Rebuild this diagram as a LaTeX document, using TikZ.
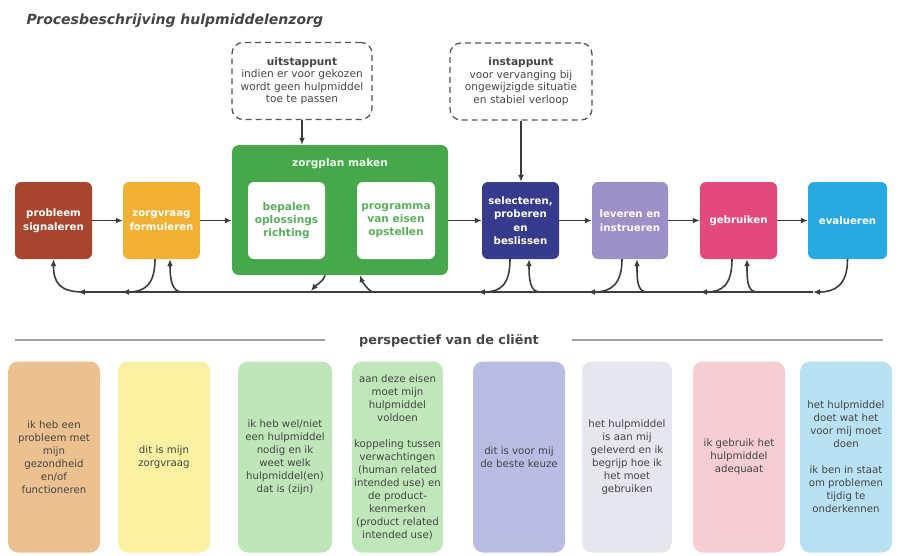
\documentclass[tikz,border=0pt]{standalone}
\usepackage{fontspec}
\setmainfont{DejaVu Sans}
\usetikzlibrary{arrows.meta}

\definecolor{cProbleem}{HTML}{A8452F}
\definecolor{cZorgvraag}{HTML}{F2B134}
\definecolor{cZorgplan}{HTML}{47A84B}
\definecolor{cZorgtext}{HTML}{5AAE5C}
\definecolor{cSelect}{HTML}{363B8E}
\definecolor{cLeveren}{HTML}{9D8FC8}
\definecolor{cGebruik}{HTML}{E3497C}
\definecolor{cEval}{HTML}{28A9E1}
\definecolor{cLine}{HTML}{3C3C3C}
\definecolor{cDash}{HTML}{555555}
\definecolor{cText}{HTML}{454545}
\definecolor{kOrange}{HTML}{EDC18F}
\definecolor{kYellow}{HTML}{FAF0A2}
\definecolor{kGreenA}{HTML}{BFE6B9}
\definecolor{kGreenB}{HTML}{C0E7BA}
\definecolor{kLavender}{HTML}{B9BCE3}
\definecolor{kGrey}{HTML}{E6E6EE}
\definecolor{kPink}{HTML}{F5CDD3}
\definecolor{kBlue}{HTML}{B8E1F3}

\begin{document}
\begin{tikzpicture}[x=1pt,y=-1pt,
  stepbox/.style={rounded corners=6pt, minimum width=77pt, minimum height=77pt,
    inner sep=0pt, align=center, text=white,
    font=\fontsize{10.2}{13.5}\selectfont\bfseries},
  innerbox/.style={rounded corners=6pt, fill=white, minimum height=77pt,
    inner sep=0pt, align=center, text=cZorgtext,
    font=\fontsize{10.6}{13.3}\selectfont\bfseries},
  dashbox/.style={draw=cDash, line width=1.3pt, dash pattern=on 6pt off 4pt,
    rounded corners=11pt, minimum height=77pt, inner sep=0pt, align=center,
    text=cText, font=\fontsize{10.6}{12.6}\selectfont},
  card/.style={rounded corners=10pt, minimum width=92pt, minimum height=191pt,
    inner sep=0pt, align=center, text=cText,
    font=\fontsize{10.2}{13}\selectfont},
  flow/.style={draw=cLine, line width=1.6pt, -{Latex[length=7pt,width=6pt]}},
  sepline/.style={draw=gray!75, line width=1.2pt}
]
\useasboundingbox (0,0) rectangle (901,555);

% title
\node[anchor=west, text=cText, font=\fontsize{14}{16}\selectfont\bfseries\itshape]
  (title) at (23,21) {Procesbeschrijving hulpmiddelenzorg};

% entry and exit points
\node[dashbox, minimum width=140pt] (uit) at (302,81)
  {\textbf{uitstappunt}\\indien er voor gekozen\\wordt geen hulpmiddel\\toe te passen};
\node[dashbox, minimum width=142pt] (in) at (521,81.5)
  {\textbf{instappunt}\\voor vervanging bij\\ongewijzigde situatie\\en stabiel verloop};

% process steps
\node[stepbox, fill=cProbleem] (p1) at (53.5,220.5) {probleem\\signaleren};
\node[stepbox, fill=cZorgvraag] (p2) at (161.5,220.5) {zorgvraag\\formuleren};
\node[rounded corners=7pt, fill=cZorgplan, minimum width=216pt, minimum height=130pt,
  inner sep=0pt] (g) at (340,210) {};
\node[text=white!92!cZorgplan, font=\fontsize{10.6}{12}\selectfont\bfseries]
  (gl) at (340,164) {zorgplan maken};
\node[innerbox, minimum width=77pt] (ga) at (286.5,220.5) {bepalen\\oplossings\\richting};
\node[innerbox, minimum width=78pt] (gb) at (396,220.5) {programma\\van eisen\\opstellen};
\node[stepbox, fill=cSelect] (p4) at (520.5,220.5) {selecteren,\\proberen\\en\\beslissen};
\node[stepbox, fill=cLeveren, minimum width=76pt] (p5) at (630,220.5) {leveren en\\instrueren};
\node[stepbox, fill=cGebruik] (p6) at (738.5,220.5) {gebruiken};
\node[stepbox, fill=cEval, minimum width=79pt] (p7) at (847.5,220.5) {evalueren};

% forward flow
\draw[flow] (uit.south) -- (g.north -| uit.south);
\draw[flow] (in.south) -- (p4.north -| in.south);
\draw[flow] (p1.east) -- (p2.west);
\draw[flow] (p2.east) -- (p2.east -| g.west);
\draw[flow] (p4.west -| g.east) -- (p4.west);
\draw[flow] (p4.east) -- (p5.west);
\draw[flow] (p5.east) -- (p6.west);
\draw[flow] (p6.east) -- (p7.west);

% feedback bus
\coordinate (busR) at (813,292);
\coordinate (busL) at (78,292);
\draw[flow] (busR) -- (busL);

% feedback: out of each step onto the bus
\coordinate (o2) at (122,292);
\coordinate (og) at (311,291);
\coordinate (o4) at (478,292);
\coordinate (o5) at (588,292);
\coordinate (o6) at (700,292);
\draw[flow] ([xshift=-6.5pt]p2.south) .. controls +(0,26) and +(22,0) .. (o2);
\draw[flow] ([xshift=-15pt]g.south) .. controls +(-2,7) and +(5,-6) .. (og);
\draw[flow] ([xshift=-10.5pt]p4.south) .. controls +(0,26) and +(22,0) .. (o4);
\draw[flow] ([xshift=-8pt]p5.south) .. controls +(0,26) and +(22,0) .. (o5);
\draw[flow] ([xshift=-6.5pt]p6.south) .. controls +(0,26) and +(22,0) .. (o6);
\draw[flow] (p7.south) .. controls +(0,26) and +(22,0) .. (busR);

% feedback: from the bus back into each step
\coordinate (i1) at (84,292);
\coordinate (i2) at (182,292);
\coordinate (ig) at (372,292);
\coordinate (i4) at (540,292);
\coordinate (i5) at (647,292);
\coordinate (i6) at (757,292);
\draw[flow] (i1) .. controls +(-24,0) and +(0,24) .. (p1.south);
\draw[flow] (i2) .. controls +(-10,0) and +(0,20) .. ([xshift=8.5pt]p2.south);
\draw[flow] (ig) .. controls +(-5,-3) and +(2,6) .. ([xshift=20pt]g.south);
\draw[flow] (i4) .. controls +(-10,0) and +(0,20) .. ([xshift=8.5pt]p4.south);
\draw[flow] (i5) .. controls +(-10,0) and +(0,20) .. ([xshift=7pt]p5.south);
\draw[flow] (i6) .. controls +(-10,0) and +(0,20) .. ([xshift=8.5pt]p6.south);

% client perspective heading
\node[text=cText, font=\fontsize{12.8}{14}\selectfont\bfseries] (persp) at (449,341)
  {perspectief van de cliënt};
\coordinate (sepL) at (15,340);
\coordinate (sepR) at (883,340);
\draw[sepline] (sepL) -- (325,340);
\draw[sepline] (572,340) -- (sepR);

% client perspective cards
\node[card, fill=kOrange] (k1) at (54,457)
  {ik heb een\\probleem met\\mijn\\gezondheid\\en/of\\functioneren};
\node[card, fill=kYellow] (k2) at (164,457) {dit is mijn\\zorgvraag};
\node[card, fill=kGreenA, minimum width=94pt] (k3) at (285,457)
  {ik heb wel/niet\\een hulpmiddel\\nodig en ik\\weet welk\\hulpmiddel(en)\\dat is (zijn)};
\node[card, fill=kGreenB, minimum width=91pt] (k4) at (397.5,457)
  {aan deze eisen\\moet mijn\\hulpmiddel\\voldoen\\[13pt]koppeling tussen\\verwachtingen\\(human related\\intended use) en\\de product-\\kenmerken\\(product related\\intended use)};
\node[card, fill=kLavender] (k5) at (519,457) {dit is voor mij\\de beste keuze};
\node[card, fill=kGrey, minimum width=90pt] (k6) at (627,457)
  {het hulpmiddel\\is aan mij\\geleverd en ik\\begrijp hoe ik\\het moet\\gebruiken};
\node[card, fill=kPink] (k7) at (739,457) {ik gebruik het\\hulpmiddel\\adequaat};
\node[card, fill=kBlue] (k8) at (846,457)
  {het hulpmiddel\\doet wat het\\voor mij moet\\doen\\[13pt]ik ben in staat\\om problemen\\tijdig te\\onderkennen};
\end{tikzpicture}
\end{document}
